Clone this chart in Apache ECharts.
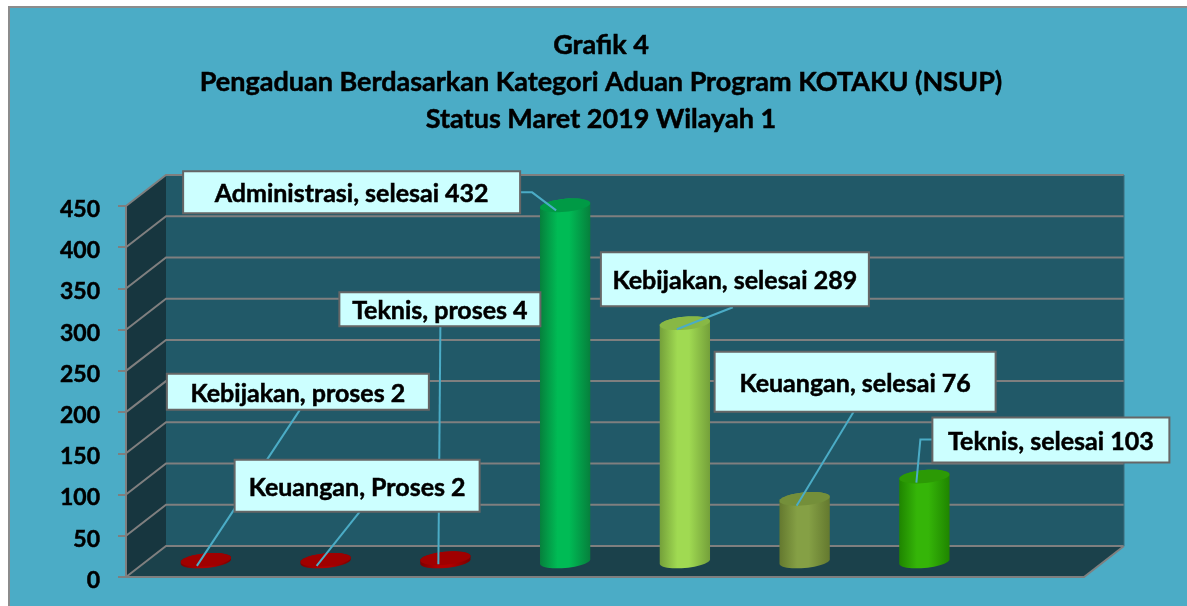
<!DOCTYPE html>
<html>
<head>
<meta charset="utf-8">
<style>html,body{margin:0;padding:0;background:#fff}#c{width:1187px;height:606px}</style>
<script src="https://cdn.jsdelivr.net/npm/echarts@6/dist/echarts.min.js"></script>
</head>
<body>
<div id="c"></div>
<script>
// ---- data ----
const categories = ['Kebijakan, proses', 'Keuangan, Proses', 'Teknis, proses', 'Administrasi, selesai', 'Kebijakan, selesai', 'Keuangan, selesai', 'Teknis, selesai', ''];
const values = [2, 2, 4, 432, 289, 76, 103, null];
const titleLines = ['Grafik 4', 'Pengaduan Berdasarkan Kategori Aduan Program KOTAKU (NSUP)', 'Status Maret 2019 Wilayah 1'];
const yMax = 450;
const yStep = 50;
const gridValues = [0, 50, 100, 150, 200, 250, 300, 350, 400, 450];

// ---- styles and layout ----
const FONT = 'Lato, "Open Sans", sans-serif';
const DEPTH = [40, -31];
const barColors = [
  ['#7d0000', '#b00000', '#a00000'],
  ['#7d0000', '#b00000', '#a00000'],
  ['#7d0000', '#b00000', '#a00000'],
  ['#06803c', '#00bb55', '#009a45'],
  ['#74a03a', '#a0da52', '#88b845'],
  ['#64792f', '#85a045', '#748f3a'],
  ['#1f8500', '#35b508', '#2c9a05']
];
// callout geometry relative to each bar's top centre: box [x0,y0,x1,y1], leader path
const callouts = [
  { box: [-39, -186, 223, -150], path: [[94, -150], [-9, 6]] },
  { box: [-91, -100, 154, -48], path: [[34, -48], [-9, 6]] },
  { box: [-106, -266, 95, -232], path: [[-5, -232], [-7, 6]] },
  { box: [-382, -34, -45, 8], path: [[-45, -13], [-33, -13], [-9, 5]] },
  { box: [-84, -71, 184, -17], path: [[48, -16], [-8, 6]] },
  { box: [-90, -147, 191, -87], path: [[49, -87], [-8, 7]] },
  { box: [8, -59, 245, -14], path: [[8, -37], [-4, -37], [-8, 6]] }
];

function barTop(api, i, v) {
  const p = api.coord([i, v]);
  return [p[0] + DEPTH[0] / 2, p[1] + DEPTH[1] / 2];
}
function ellipsePts(c, a, b, k, from, to, n) {
  const pts = [];
  for (let j = 0; j <= n; j++) {
    const t = from + (to - from) * j / n;
    pts.push([c[0] + a * Math.cos(t), c[1] + b * Math.sin(t) - k * Math.cos(t)]);
  }
  return pts;
}

function renderWalls(params, api) {
  if (params.dataIndex > 0) return;
  const band = api.size([1, 0])[0];
  const left = api.coord([0, 0])[0] - band / 2;
  const right = api.coord([categories.length - 1, 0])[0] + band / 2;
  const y0 = api.coord([0, 0])[1];
  const yT = api.coord([0, yMax])[1];
  const O = [left, y0], R = [right, y0], T = [left, yT];
  const dx = DEPTH[0], dy = DEPTH[1];
  const gridStyle = { stroke: '#7f7f7f', lineWidth: 2, fill: null };
  const children = [
    { type: 'polygon', shape: { points: [[O[0] + dx, T[1] + dy], [R[0] + dx, T[1] + dy], [R[0] + dx, O[1] + dy], [O[0] + dx, O[1] + dy]] }, style: { fill: '#215968' } },
    { type: 'polygon', shape: { points: [O, T, [T[0] + dx, T[1] + dy], [O[0] + dx, O[1] + dy]] }, style: { fill: '#17363f' } },
    { type: 'polygon', shape: { points: [O, R, [R[0] + dx, R[1] + dy], [O[0] + dx, O[1] + dy]] }, style: { fill: '#1b414b' } }
  ];
  gridValues.forEach(function (v) {
    const yy = api.coord([0, v])[1];
    children.push({ type: 'polyline', shape: { points: [[left, yy], [left + dx, yy + dy], [right + dx, yy + dy]] }, style: gridStyle });
  });
  children.push({ type: 'line', shape: { x1: R[0], y1: R[1], x2: R[0] + dx, y2: R[1] + dy }, style: { stroke: '#7f7f7f', lineWidth: 2 } });
  children.push({ type: 'line', shape: { x1: R[0] + dx, y1: T[1] + dy, x2: R[0] + dx, y2: R[1] + dy }, style: { stroke: '#3f6f7c', lineWidth: 1 } });
  return { type: 'group', children: children };
}

function renderBar(params, api) {
  const i = api.value(0), v = api.value(1);
  const top = barTop(api, i, v);
  const base = barTop(api, i, 0);
  const a = api.size([1, 0])[0] * 0.21;
  const b = 6.5, k = 2.2;
  const c = barColors[i];
  const body = ellipsePts(top, a, b, k, Math.PI, 2 * Math.PI, 24)
    .concat(ellipsePts(base, a, b, k, 0, Math.PI, 24));
  return {
    type: 'group',
    children: [
      {
        type: 'polygon', shape: { points: body },
        style: {
          fill: new echarts.graphic.LinearGradient(0, 0, 1, 0, [
            { offset: 0, color: c[0] }, { offset: 0.35, color: c[1] },
            { offset: 0.58, color: c[1] }, { offset: 1, color: c[0] }
          ])
        }
      },
      { type: 'polygon', shape: { points: ellipsePts(top, a, b, k, 0, 2 * Math.PI, 48) }, style: { fill: c[2] } }
    ]
  };
}

function renderLeader(params, api) {
  const i = api.value(0);
  const t = barTop(api, i, api.value(1));
  const pts = callouts[i].path.map(function (d) { return [t[0] + d[0], t[1] + d[1]]; });
  return { type: 'polyline', shape: { points: pts }, style: { stroke: '#4bacc6', lineWidth: 2, fill: null } };
}

function renderBox(params, api) {
  const i = api.value(0), v = api.value(1);
  const t = barTop(api, i, v);
  const r = callouts[i].box;
  return {
    type: 'group',
    children: [
      { type: 'rect', shape: { x: t[0] + r[0], y: t[1] + r[1], width: r[2] - r[0], height: r[3] - r[1] }, style: { fill: '#ccffff', stroke: '#666666', lineWidth: 2 } },
      { type: 'text', style: { x: t[0] + (r[0] + r[2]) / 2, y: t[1] + (r[1] + r[3]) / 2 + 2, text: categories[i] + ' ' + v, align: 'center', verticalAlign: 'middle', font: 'bold 25px ' + FONT, fill: '#000', stroke: '#000', lineWidth: 0.5 } }
    ]
  };
}

const barData = values.map(function (v, i) { return [i, v]; }).filter(function (d) { return d[1] !== null; });

const chart = echarts.init(document.getElementById('c'), null, { renderer: 'canvas' });
chart.setOption({
  animation: false,
  backgroundColor: '#ffffff',
  graphic: [{
    type: 'rect', z: -10, shape: { x: 9, y: 7, width: 1190, height: 610 },
    style: { fill: '#4bacc6', stroke: '#8c8c8c', lineWidth: 2 }
  }],
  title: {
    text: titleLines.join('\n'),
    left: 596, top: 22, textAlign: 'center',
    textStyle: { fontFamily: FONT, fontWeight: 'bold', fontSize: 27, lineHeight: 37, color: '#000', textBorderColor: '#000', textBorderWidth: 0.5 }
  },
  grid: { left: 126, right: 103, top: 206, bottom: 29, containLabel: false },
  xAxis: {
    type: 'category', data: categories, z: 6,
    axisLine: { show: true, lineStyle: { color: '#7f7f7f', width: 2 } },
    axisTick: { show: false }, axisLabel: { show: false }, splitLine: { show: false }
  },
  yAxis: {
    type: 'value', min: 0, max: yMax, interval: yStep, z: 6,
    axisLine: { show: true, lineStyle: { color: '#7f7f7f', width: 2 } },
    axisTick: { show: true, length: 8, lineStyle: { color: '#7f7f7f', width: 2 } },
    axisLabel: { show: true, margin: 26, fontFamily: FONT, fontWeight: 'bold', fontSize: 23, color: '#000', verticalAlign: 'top', padding: [-8, 0, 0, 0], textBorderColor: '#000', textBorderWidth: 0.5 },
    splitLine: { show: false }
  },
  series: [
    { type: 'custom', z: 1, renderItem: renderWalls, data: [[0, 0]], silent: true },
    { type: 'custom', z: 2, renderItem: renderBar, data: barData, silent: true },
    { type: 'custom', z: 3, renderItem: renderLeader, data: barData, silent: true },
    { type: 'custom', z: 4, renderItem: renderBox, data: barData, silent: true }
  ]
});
</script>
</body>
</html>
